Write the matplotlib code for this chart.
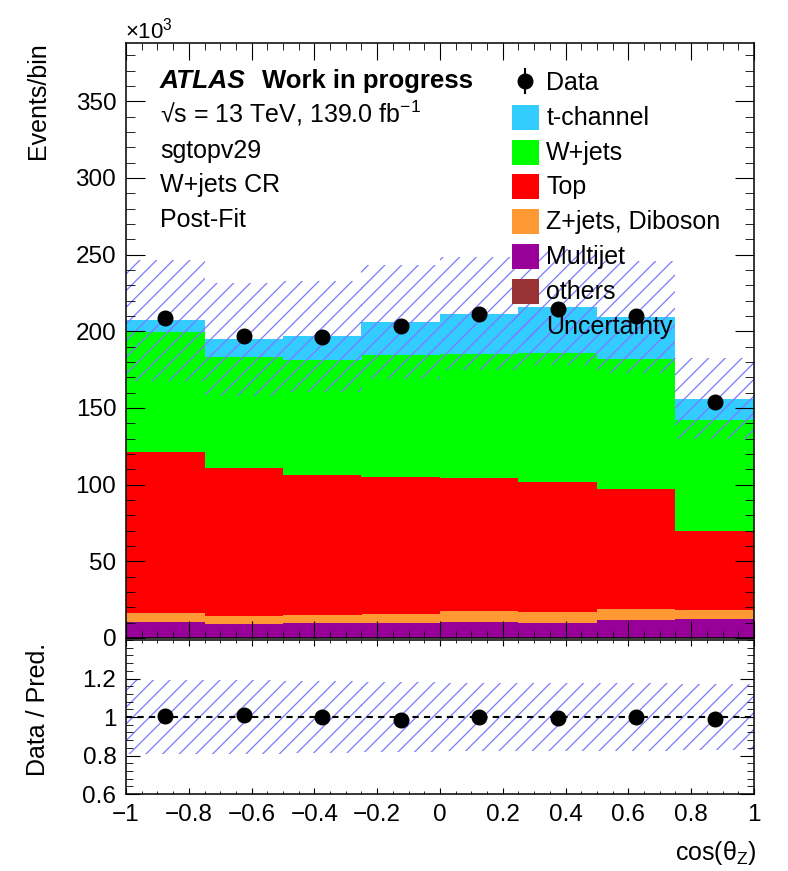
import matplotlib
matplotlib.use("Agg")
import matplotlib.pyplot as plt
import numpy as np
from matplotlib.patches import Rectangle
from matplotlib.ticker import MultipleLocator, FuncFormatter

plt.rcParams['font.family'] = ['Liberation Sans', 'DejaVu Sans']
plt.rcParams['mathtext.fontset'] = 'custom'
plt.rcParams['mathtext.rm'] = 'Liberation Sans'
plt.rcParams['mathtext.it'] = 'Liberation Sans:italic'
plt.rcParams['hatch.linewidth'] = 0.9

# Daten (in 10^3 Ereignissen)
bin_edges = [-1.0, -0.75, -0.5, -0.25, 0.0, 0.25, 0.5, 0.75, 1.0]
others = [0.2, 0.2, 0.2, 0.2, 0.2, 0.2, 0.2, 0.2]
multijet = [10.4, 8.9, 9.3, 9.3, 10.4, 9.4, 11.5, 12.2]
zjets_diboson = [5.9, 5.4, 5.5, 6.1, 7.0, 7.5, 7.0, 5.8]
top = [104.9, 96.5, 91.0, 89.1, 86.8, 84.5, 78.5, 51.5]
wjets = [78.1, 72.3, 75.0, 79.7, 81.1, 84.0, 84.7, 72.3]
tchannel = [7.7, 11.5, 15.7, 21.6, 26.0, 30.3, 27.6, 14.0]
data = [208.8, 196.7, 196.3, 203.3, 211.5, 214.8, 209.8, 154.0]
rel_unc = [0.19, 0.19, 0.185, 0.18, 0.175, 0.175, 0.175, 0.17]

samples = [
    ("others", others, "#993333"),
    ("Multijet", multijet, "#990099"),
    ("Z+jets, Diboson", zjets_diboson, "#ff9933"),
    ("Top", top, "#ff0000"),
    ("W+jets", wjets, "#00ff00"),
    ("t-channel", tchannel, "#33ccff"),
]
hatch_col = "#7a7aff"

edges = np.array(bin_edges)
left = edges[:-1]
width = np.diff(edges)
centers = left + width / 2

fig = plt.figure(figsize=(7.88, 8.71), dpi=100)
ax = fig.add_axes([126/788, 1 - 638/871, 628/788, 595/871])
rax = fig.add_axes([126/788, 1 - 794/871, 628/788, 154/871])

# Stack
bottom = np.zeros(len(left))
for name, vals, col in samples:
    ax.bar(left, vals, width=width, bottom=bottom, align='edge', color=col, linewidth=0)
    bottom = bottom + np.array(vals)
total = bottom
unc = total * np.array(rel_unc)

ax.bar(left, 2 * unc, width=width, bottom=total - unc, align='edge', fill=False,
       hatch='//', edgecolor=hatch_col, linewidth=0)
ax.errorbar(centers, data, yerr=np.sqrt(np.array(data) * 1e3) / 1e3, fmt='o', color='black',
            ms=10.5, elinewidth=1.5, capsize=0, zorder=5)

ax.set_xlim(-1, 1)
ax.set_ylim(0, 388)

# Verhaeltnis
ratio = np.array(data) / total
rax.bar(left, 2 * np.array(rel_unc), width=width, bottom=1 - np.array(rel_unc), align='edge',
        fill=False, hatch='//', edgecolor=hatch_col, linewidth=0)
rax.axhline(1.0, color='black', ls=(0, (3, 2.5)), lw=1.5)
rax.plot(centers, ratio, 'o', color='black', ms=10.5, zorder=5)
rax.set_xlim(-1, 1)
rax.set_ylim(0.6, 1.4)

fmt = FuncFormatter(lambda v, p: f"{round(v, 6) + 0.0:g}".replace('-', '\u2212'))
for a in (ax, rax):
    a.xaxis.set_major_locator(MultipleLocator(0.2))
    a.xaxis.set_minor_locator(MultipleLocator(0.05))
    a.tick_params(which='both', direction='in', top=True, right=True, labelsize=17.5, pad=7)
    for s in a.spines.values():
        s.set_linewidth(1.1)
ax.yaxis.set_major_locator(MultipleLocator(50))
ax.yaxis.set_minor_locator(MultipleLocator(10))
ax.tick_params(axis='y', which='major', length=13.5)
ax.tick_params(axis='y', which='minor', length=6.5)
ax.tick_params(axis='x', which='major', length=12)
ax.tick_params(axis='x', which='minor', length=5)
ax.tick_params(axis='x', labelbottom=False)
ax.yaxis.set_major_formatter(fmt)

rax.set_yticks([0.6, 0.8, 1.0, 1.2])
rax.yaxis.set_minor_locator(MultipleLocator(0.04))
rax.yaxis.set_major_formatter(fmt)
rax.xaxis.set_major_formatter(fmt)
rax.tick_params(axis='y', which='major', length=10)
rax.tick_params(axis='y', which='minor', length=5)
rax.tick_params(axis='x', which='major', length=4)
rax.tick_params(axis='x', which='minor', length=2)

# Achsentitel
fig.text(38/788, 1 - 42/871, "Events/bin", rotation=90, ha='center', va='top', fontsize=18)
fig.text(38/788, 1 - 643/871, "Data / Pred.", rotation=90, ha='center', va='top', fontsize=18)
fig.text(757/788, 1 - 860/871, r"cos(θ$_{\mathrm{Z}}$)", ha='right', va='baseline', fontsize=18)
fig.text(125/788, 1 - 38/871, r"$\times$10$^{3}$", ha='left', va='baseline', fontsize=16)

# Beschriftung
tr = ax.transAxes
y0 = (638 - 88) / 595
dy = 34.8 / 595
ax.text(0.054, y0, "ATLAS", transform=tr, fontsize=19, fontweight='bold', style='italic', va='baseline')
ax.text(0.216, y0, "Work in progress", transform=tr, fontsize=18.5, fontweight='bold', va='baseline')
ax.text(0.054, y0 - dy, "\u221as = 13 TeV, 139.0 fb$^{-1}$", transform=tr, fontsize=18, va='baseline')
ax.text(0.054, y0 - 2*dy, "sgtopv29", transform=tr, fontsize=18, va='baseline')
ax.text(0.054, y0 - 3*dy, "W+jets CR", transform=tr, fontsize=18, va='baseline')
ax.text(0.054, y0 - 4*dy, "Post-Fit", transform=tr, fontsize=18, va='baseline')

# Legende
ly0 = (638 - 90) / 595
entries = ["Data"] + [s[0] for s in samples[::-1]] + ["Uncertainty"]
cols = [None] + [s[2] for s in samples[::-1]] + [None]
for i, (lab, col) in enumerate(zip(entries, cols)):
    yb = ly0 - i * dy
    ax.text(0.669, yb, lab, transform=tr, fontsize=18, va='baseline', zorder=6)
    if lab == "Data":
        ax.plot([0.635], [yb + 9/595], 'o', color='black', ms=10.5, transform=tr, clip_on=False)
        ax.plot([0.635, 0.635], [yb - 3/595, yb + 21/595], color='black', lw=1.5, transform=tr)
    elif lab == "Uncertainty":
        ax.add_patch(Rectangle((0.615, yb - 5/595), 0.0424, 25/595, transform=tr,
                               fill=False, hatch='//', edgecolor=hatch_col, linewidth=0))
    else:
        ax.add_patch(Rectangle((0.615, yb - 5/595), 0.0424, 25/595, transform=tr,
                               facecolor=col, edgecolor='none', zorder=6))

fig.savefig("out.png", dpi=100)
